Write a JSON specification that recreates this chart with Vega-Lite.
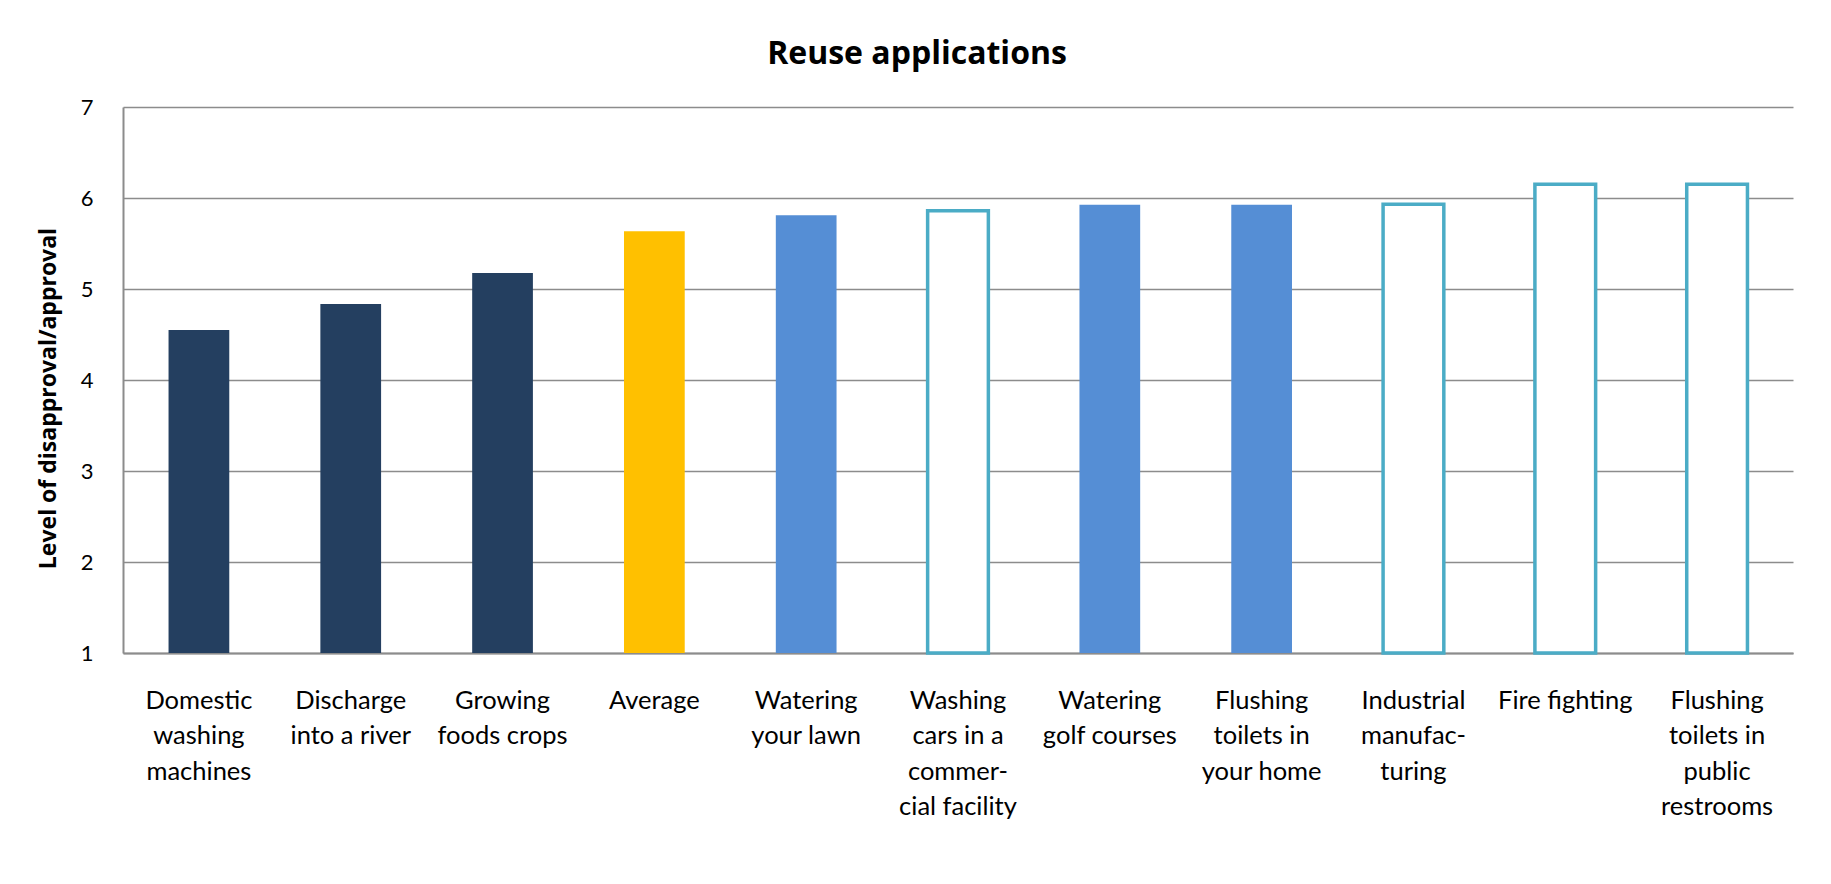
{
  "$schema": "https://vega.github.io/schema/vega-lite/v6.json",
  "autosize": {"type": "none"},
  "padding": {"left": 123, "top": 107, "right": 38, "bottom": 231},
  "width": 1670,
  "height": 546,
  "background": "#ffffff",
  "title": {
    "text": "Reuse applications",
    "font": "Open Sans",
    "fontSize": 32,
    "fontWeight": "bold",
    "color": "#000000",
    "anchor": "middle",
    "baseline": "alphabetic",
    "offset": 0,
    "dx": -41
  },
  "data": {
    "values": [
      {"application": "Domestic|washing|machines", "level": 4.55, "group": "low"},
      {"application": "Discharge|into a river", "level": 4.835, "group": "low"},
      {"application": "Growing|foods crops", "level": 5.175, "group": "low"},
      {"application": "Average", "level": 5.635, "group": "average"},
      {"application": "Watering|your lawn", "level": 5.81, "group": "filled"},
      {"application": "Washing|cars in a|commer-|cial facility", "level": 5.86, "group": "outline"},
      {"application": "Watering|golf courses", "level": 5.925, "group": "filled"},
      {"application": "Flushing|toilets in|your home", "level": 5.925, "group": "filled"},
      {"application": "Industrial|manufac-|turing", "level": 5.93, "group": "outline"},
      {"application": "Fire fighting", "level": 6.15, "group": "outline"},
      {"application": "Flushing|toilets in|public|restrooms", "level": 6.15, "group": "outline"}
    ]
  },
  "mark": {"type": "bar", "strokeWidth": 3.5},
  "encoding": {
    "x": {
      "field": "application",
      "type": "nominal",
      "sort": null,
      "scale": {"paddingInner": 0.6, "paddingOuter": 0.3},
      "axis": {
        "title": null,
        "labelAngle": 0,
        "labelFont": "Lato",
        "labelFontSize": 25.5,
        "labelColor": "#000000",
        "labelBaseline": "top",
        "labelLineHeight": 35.5,
        "labelPadding": 35,
        "labelLimit": 0,
        "labelOverlap": false,
        "labelBound": false,
        "labelExpr": "split(datum.label, '|')",
        "ticks": false,
        "domainColor": "#8c8c8c",
        "domainWidth": 2
      }
    },
    "y": {
      "field": "level",
      "type": "quantitative",
      "scale": {"domain": [1, 7], "nice": false, "zero": false},
      "axis": {
        "title": "Level of disapproval/approval",
        "titleFont": "Open Sans",
        "titleFontSize": 23,
        "titleFontWeight": "bold",
        "titleColor": "#000000",
        "titleAngle": 270,
        "titleX": -75,
        "titleY": 291,
        "titleAlign": "center",
        "titleBaseline": "middle",
        "values": [1, 2, 3, 4, 5, 6, 7],
        "labelFont": "Lato",
        "labelFontSize": 22,
        "labelColor": "#000000",
        "labelPadding": 30,
        "ticks": false,
        "domainColor": "#8c8c8c",
        "domainWidth": 2,
        "grid": true,
        "gridColor": "#8c8c8c",
        "gridWidth": 1.6
      }
    },
    "y2": {"datum": 1},
    "fill": {
      "field": "group",
      "type": "nominal",
      "scale": {"domain": ["low", "average", "filled", "outline"], "range": ["#243f60", "#ffc000", "#558ed5", "#ffffff"]},
      "legend": null
    },
    "stroke": {
      "field": "group",
      "type": "nominal",
      "scale": {"domain": ["low", "average", "filled", "outline"], "range": ["transparent", "transparent", "transparent", "#4bacc6"]},
      "legend": null
    }
  },
  "config": {
    "view": {"stroke": null},
    "font": "Lato"
  }
}
